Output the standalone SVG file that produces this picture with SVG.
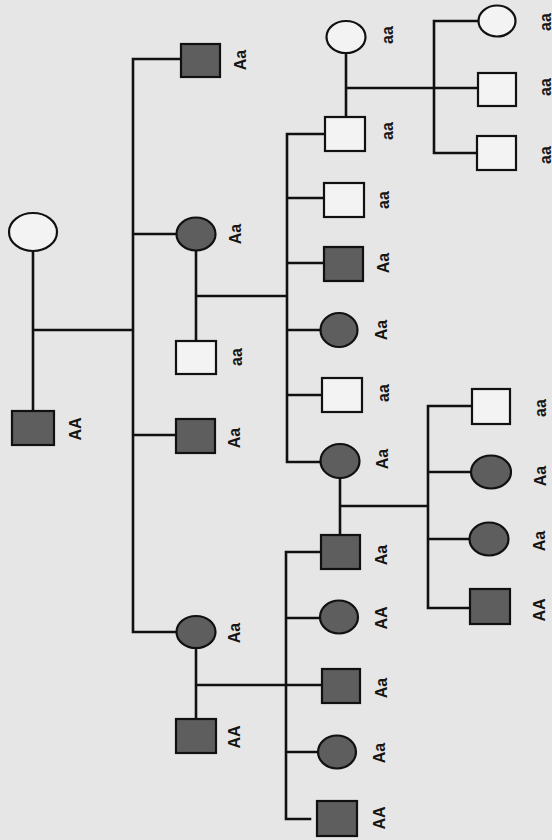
<svg xmlns="http://www.w3.org/2000/svg" width="552" height="840" viewBox="0 0 552 840">
<style>
.bg{fill:#e6e6e6}
.open{fill:#f3f3f3;stroke:#111;stroke-width:2.2}
.aff{fill:#5e5e5e;stroke:#111;stroke-width:2.2}
.ln{fill:none;stroke:#111;stroke-width:2.6;stroke-linecap:square}
.lb{font-family:"Liberation Sans","DejaVu Sans",sans-serif;font-size:16px;font-weight:bold;fill:#151515;text-anchor:middle}
</style>
<rect class="bg" x="0" y="0" width="552" height="840"/>
<g id="connectors">
<path class="ln" d="M33 251V411M33 330H133M133 59V632M133 59H181M133 234H177M133 435H176M133 632H176"/>
<path class="ln" d="M196 251V341M196 296H287M287 134V462M287 134H325M287 198H324M287 263H324M287 330H321M287 395H322M287 462H320"/>
<path class="ln" d="M196 648V719M196 685H322M286 552V819M286 552H321M286 618H320M286 752H318M286 819H310"/>
<path class="ln" d="M346 53V117M346 88H478M434 21V153M434 21H478M434 153H477"/>
<path class="ln" d="M340 478V535M340 506H428M428 406V608M428 406H472M428 472H471M428 539H469M428 608H470"/>
</g>
<g id="I-1"><ellipse class="open" cx="33" cy="232" rx="24" ry="19"/></g>
<g id="I-2"><rect class="aff" x="12" y="411" width="42" height="34"/><text class="lb" transform="translate(75 429) rotate(-90)" dy="0.35em">AA</text></g>
<g id="II-1"><rect class="aff" x="181" y="44" width="39" height="33"/><text class="lb" transform="translate(240 60) rotate(-90)" dy="0.35em">Aa</text></g>
<g id="II-2"><ellipse class="aff" cx="196" cy="234" rx="19.5" ry="16.5"/><text class="lb" transform="translate(235 234) rotate(-90)" dy="0.35em">Aa</text></g>
<g id="II-3"><rect class="open" x="176" y="341" width="40" height="33"/><text class="lb" transform="translate(236 357) rotate(-90)" dy="0.35em">aa</text></g>
<g id="II-4"><rect class="aff" x="176" y="419" width="39" height="34"/><text class="lb" transform="translate(234 438) rotate(-90)" dy="0.35em">Aa</text></g>
<g id="II-5"><ellipse class="aff" cx="196" cy="632" rx="19.5" ry="16"/><text class="lb" transform="translate(234 633) rotate(-90)" dy="0.35em">Aa</text></g>
<g id="II-6"><rect class="aff" x="176" y="719" width="40" height="34"/><text class="lb" transform="translate(234 737) rotate(-90)" dy="0.35em">AA</text></g>
<g id="III-spouse"><ellipse class="open" cx="346" cy="37" rx="19.5" ry="16"/><text class="lb" transform="translate(387 35) rotate(-90)" dy="0.35em">aa</text></g>
<g id="III-1"><rect class="open" x="325" y="117" width="40" height="34"/><text class="lb" transform="translate(387 131) rotate(-90)" dy="0.35em">aa</text></g>
<g id="III-2"><rect class="open" x="324" y="183" width="40" height="34"/><text class="lb" transform="translate(383 200) rotate(-90)" dy="0.35em">aa</text></g>
<g id="III-3"><rect class="aff" x="324" y="247" width="39" height="34"/><text class="lb" transform="translate(383 263) rotate(-90)" dy="0.35em">Aa</text></g>
<g id="III-4"><ellipse class="aff" cx="339" cy="330" rx="18.5" ry="17"/><text class="lb" transform="translate(381 330) rotate(-90)" dy="0.35em">Aa</text></g>
<g id="III-5"><rect class="open" x="322" y="378" width="40" height="34"/><text class="lb" transform="translate(383 393) rotate(-90)" dy="0.35em">aa</text></g>
<g id="III-6"><ellipse class="aff" cx="340" cy="461" rx="19.5" ry="17"/><text class="lb" transform="translate(382 459) rotate(-90)" dy="0.35em">Aa</text></g>
<g id="III-7"><rect class="aff" x="321" y="535" width="39" height="34"/><text class="lb" transform="translate(381 555) rotate(-90)" dy="0.35em">Aa</text></g>
<g id="III-8"><ellipse class="aff" cx="339" cy="617" rx="19" ry="16.5"/><text class="lb" transform="translate(381 618) rotate(-90)" dy="0.35em">AA</text></g>
<g id="III-9"><rect class="aff" x="322" y="669" width="38" height="34"/><text class="lb" transform="translate(381 688) rotate(-90)" dy="0.35em">Aa</text></g>
<g id="III-10"><ellipse class="aff" cx="337" cy="752" rx="19" ry="16.5"/><text class="lb" transform="translate(379 753) rotate(-90)" dy="0.35em">Aa</text></g>
<g id="III-11"><rect class="aff" x="317" y="801" width="40" height="35"/><text class="lb" transform="translate(379 818) rotate(-90)" dy="0.35em">AA</text></g>
<g id="IV-1"><ellipse class="open" cx="497" cy="21" rx="18.5" ry="15.5"/><text class="lb" transform="translate(545 22) rotate(-90)" dy="0.35em">aa</text></g>
<g id="IV-2"><rect class="open" x="478" y="73" width="38" height="33"/><text class="lb" transform="translate(545 87) rotate(-90)" dy="0.35em">aa</text></g>
<g id="IV-3"><rect class="open" x="477" y="136" width="39" height="34"/><text class="lb" transform="translate(545 155) rotate(-90)" dy="0.35em">aa</text></g>
<g id="IV-4"><rect class="open" x="472" y="389" width="38" height="35"/><text class="lb" transform="translate(540 408) rotate(-90)" dy="0.35em">aa</text></g>
<g id="IV-5"><ellipse class="aff" cx="491" cy="472" rx="20" ry="16.5"/><text class="lb" transform="translate(540 476) rotate(-90)" dy="0.35em">Aa</text></g>
<g id="IV-6"><ellipse class="aff" cx="489" cy="539" rx="19.5" ry="16.5"/><text class="lb" transform="translate(539 541) rotate(-90)" dy="0.35em">Aa</text></g>
<g id="IV-7"><rect class="aff" x="470" y="589" width="40" height="35"/><text class="lb" transform="translate(539 610) rotate(-90)" dy="0.35em">AA</text></g>
</svg>
